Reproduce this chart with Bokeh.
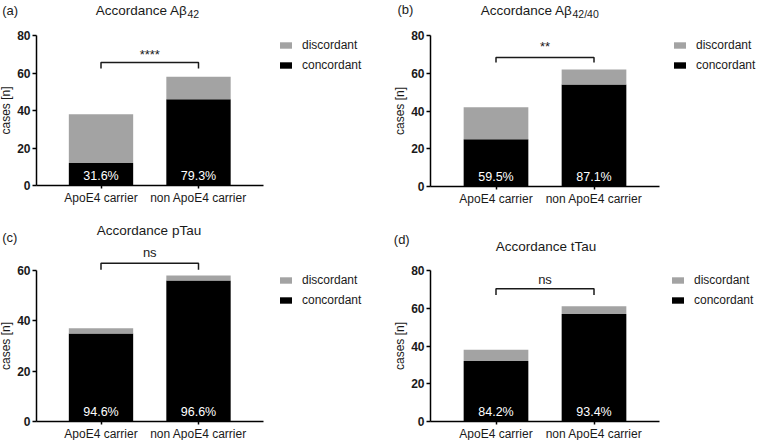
from bokeh.plotting import figure
from bokeh.models import Range1d, FixedTicker, Label, Legend, LegendItem, ColumnDataSource
from bokeh.layouts import column, row
from bokeh.embed import file_html
from bokeh.resources import INLINE
from bokeh.core.properties import value

# ---------------- data ----------------
categories = ["ApoE4 carrier", "non ApoE4 carrier"]
panel_letters = ["(a)", "(b)", "(c)", "(d)"]
title_main = ["Accordance A\u03b2", "Accordance A\u03b2", "Accordance pTau", "Accordance tTau"]
title_sub = ["42", "42/40", "", ""]
concordant = [[12, 46], [25, 54], [35, 56], [32, 57]]
total = [[38, 58], [42, 62], [37, 58], [38, 61]]
significance = ["****", "**", "ns", "ns"]
y_axis_max = [80, 80, 60, 80]
y_ticks = [[0, 20, 40, 60, 80], [0, 20, 40, 60, 80], [0, 20, 40, 60], [0, 20, 40, 60, 80]]
bracket_top = [65.6, 68.3, 62.9, 70.3]
bracket_end = [62.4, 65.7, 60.3, 67.0]
sig_label_y = [69.9, 74.2, 67.1, 75.2]

# ---------------- style / layout ----------------
FONT = "Liberation Sans"
GRAY = "#a3a3a3"
INK = "#1a1a1a"
W, H = 380, 220

# pixel geometry per panel (figure px):
# axis x, first category centre x, px per category, axis right end, y=0 pixel, px per y unit
geom = [
    (36, 100.5, 97.5, 263, 185, 1.875),
    (50, 115.5, 98.0, 279, 186, 1.8875),
    (36, 100.5, 97.5, 263, 201, 2.517),
    (50, 115.5, 98.0, 279, 201, 1.8875),
]
# titles: (x, middle y, align); subscript anchor (x, middle y); letter (x, middle y)
title_geo = [
    dict(main=(187, 9.5, "right"), sub=(187, 13.3), letter=(1.7, 10)),
    dict(main=(192, 9.5, "right"), sub=(192, 13.3), letter=(17, 9.3)),
    dict(main=(148.5, 10.2, "center"), sub=None, letter=(1.7, 17)),
    dict(main=(165.5, 25.7, "center"), sub=None, letter=(13.3, 19)),
]
legend_geo = [(278, 72), (292, 72), (278, 87), (290, 87)]  # left x, bottom y (px from top)


def make_panel(i):
    ax_px, c0_px, unit_px, right_px, y0_px, ppu = geom[i]

    x_start = -c0_px / unit_px
    x_end = (W - c0_px) / unit_px
    y_start = -(H - y0_px) / ppu
    y_end = y0_px / ppu
    x_axis_left = (ax_px - c0_px) / unit_px
    x_axis_right = (right_px - c0_px) / unit_px

    p = figure(width=W, height=H, output_backend="svg", toolbar_location=None,
               x_range=Range1d(x_start, x_end), y_range=Range1d(y_start, y_end),
               min_border=0, min_border_left=0, min_border_right=0,
               min_border_top=0, min_border_bottom=0,
               background_fill_color="white", border_fill_color="white")
    p.title.visible = False
    p.outline_line_color = None
    p.xgrid.visible = False
    p.ygrid.visible = False

    xs = list(range(len(categories)))
    conc = concordant[i]
    tot = total[i]
    pct = ["%.1f%%" % (c / t * 100) for c, t in zip(conc, tot)]
    src = ColumnDataSource(dict(x=xs, conc=conc, tot=tot, pct=pct))

    r_conc = p.vbar(x="x", top="conc", bottom=0, width=0.66, fill_color="black",
                    line_color=None, source=src)
    r_disc = p.vbar(x="x", top="tot", bottom="conc", width=0.66, fill_color=GRAY,
                    line_color=None, source=src)

    p.text(x="x", y=0, text="pct", source=src, text_color="white",
           text_align="center", text_baseline="middle", y_offset=-10,
           text_font=value(FONT), text_font_size="12.5px")

    # significance bracket
    p.line(x=[xs[0], xs[0], xs[1], xs[1]],
           y=[bracket_end[i], bracket_top[i], bracket_top[i], bracket_end[i]],
           line_color=INK, line_width=1.5)
    p.text(x=[(xs[0] + xs[1]) / 2], y=[sig_label_y[i]], text=[significance[i]],
           text_align="center", text_baseline="middle", text_color=INK,
           text_font=value(FONT), text_font_size="13px")

    # axes (drawn at fixed locations inside the frame)
    xa = p.xaxis[0]
    xa.fixed_location = 0
    xa.bounds = (x_axis_left, x_axis_right)
    xa.ticker = FixedTicker(ticks=xs)
    xa.major_label_overrides = {x: c for x, c in zip(xs, categories)}
    xa.major_tick_in = 0
    xa.major_tick_out = 3
    xa.minor_tick_line_color = None
    xa.major_label_standoff = 2
    xa.axis_line_width = 1.5
    xa.major_tick_line_width = 1.5
    xa.axis_line_color = "black"
    xa.major_label_text_font = FONT
    xa.major_label_text_font_size = "12px"
    xa.major_label_text_color = INK

    ya = p.yaxis[0]
    ya.fixed_location = x_axis_left
    ya.ticker = FixedTicker(ticks=y_ticks[i])
    ya.bounds = (0, y_axis_max[i])
    ya.major_tick_in = 0
    ya.major_tick_out = 4
    ya.minor_tick_line_color = None
    ya.major_label_standoff = 2
    ya.axis_line_width = 1.5
    ya.major_tick_line_width = 1.5
    ya.axis_line_color = "black"
    ya.major_label_text_font = FONT
    ya.major_label_text_font_size = "12px"
    ya.major_label_text_font_style = "bold"
    ya.major_label_text_color = INK
    ya.axis_label = "cases [n]"
    ya.axis_label_text_font = FONT
    ya.axis_label_text_font_size = "12px"
    ya.axis_label_text_font_style = "normal"
    ya.axis_label_text_color = INK
    ya.axis_label_standoff = 1

    # legend
    lx, lb = legend_geo[i]
    legend = Legend(items=[LegendItem(label="discordant", renderers=[r_disc]),
                           LegendItem(label="concordant", renderers=[r_conc])],
                    location=(lx, H - lb), padding=0, margin=0, spacing=6,
                    glyph_width=15, glyph_height=8, label_height=13,
                    label_standoff=9, border_line_color=None,
                    background_fill_alpha=0, label_text_font=FONT,
                    label_text_font_size="12px", label_text_color=INK)
    p.add_layout(legend)

    # titles
    tg = title_geo[i]
    mx, my, malign = tg["main"]
    p.add_layout(Label(x=mx, y=H - my, x_units="screen", y_units="screen",
                       text=title_main[i], text_align=malign,
                       text_baseline="middle", text_font=FONT,
                       text_font_size="13.5px", text_color=INK))
    if title_sub[i]:
        sx, sy = tg["sub"]
        p.add_layout(Label(x=sx, y=H - sy, x_units="screen", y_units="screen",
                           text=title_sub[i], text_align="left",
                           text_baseline="middle", text_font=FONT,
                           text_font_size="10.5px", text_color=INK))
    lxx, lyy = tg["letter"]
    p.add_layout(Label(x=lxx, y=H - lyy, x_units="screen", y_units="screen",
                       text=panel_letters[i], text_align="left",
                       text_baseline="middle", text_font=FONT,
                       text_font_size="13px", text_color=INK))
    return p


panels = [make_panel(i) for i in range(4)]
layout = column(row(panels[0], panels[1]), row(panels[2], panels[3]))

open("out.html", "w").write(file_html(layout, INLINE))
